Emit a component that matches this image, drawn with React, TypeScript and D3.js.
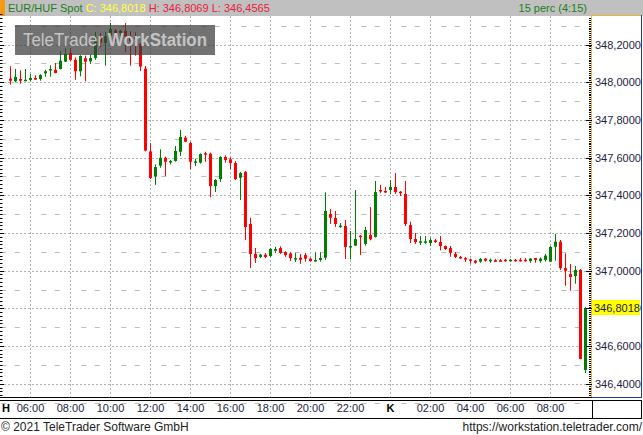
import * as d3 from "d3";

// 15-minute EUR/HUF candles, Monday 05:00 -> Tuesday 09:45
const opens = [
  348.019, 348.005, 348.017, 348.006, 348.012, 348.022, 348.017, 348.047, 348.065, 348.066,
  348.07, 348.109, 348.156, 348.119, 348.058, 348.127, 348.111, 348.128, 348.238, 348.208,
  348.247, 348.275, 348.261, 348.273, 348.243, 348.238, 348.203, 348.072, 347.633, 347.499,
  347.557, 347.599, 347.577, 347.582, 347.631, 347.706, 347.677, 347.575, 347.573, 347.623,
  347.621, 347.449, 347.486, 347.603, 347.591, 347.571, 347.493, 347.524, 347.248, 347.089,
  347.073, 347.085, 347.078, 347.106, 347.12, 347.099, 347.091, 347.062, 347.069, 347.083,
  347.064, 347.051, 347.057, 347.069, 347.301, 347.28, 347.232, 347.237, 347.126, 347.133,
  347.186, 347.142, 347.189, 347.179, 347.428, 347.423, 347.428, 347.444, 347.419, 347.407,
  347.242, 347.168, 347.149, 347.149, 347.147, 347.161, 347.152, 347.131, 347.12, 347.089,
  347.073, 347.067, 347.06, 347.053, 347.048, 347.064, 347.055, 347.055, 347.055, 347.058,
  347.051, 347.058, 347.058, 347.058, 347.051, 347.067, 347.051, 347.057, 347.048, 347.127,
  347.154, 347.014, 346.982, 346.972, 347.004, 346.473,
];
const highs = [
  348.084, 348.07, 348.063, 348.07, 348.043, 348.037, 348.043, 348.066, 348.09, 348.102,
  348.164, 348.181, 348.181, 348.132, 348.143, 348.141, 348.146, 348.266, 348.261, 348.266,
  348.314, 348.282, 348.278, 348.314, 348.27, 348.265, 348.208, 348.086, 347.677, 347.564,
  347.644, 347.605, 347.587, 347.662, 347.746, 347.715, 347.684, 347.594, 347.623, 347.631,
  347.626, 347.486, 347.608, 347.612, 347.602, 347.582, 347.524, 347.529, 347.28, 347.12,
  347.09, 347.094, 347.12, 347.126, 347.129, 347.104, 347.099, 347.094, 347.089, 347.094,
  347.069, 347.098, 347.098, 347.416, 347.327, 347.317, 347.253, 347.269, 347.211, 347.428,
  347.189, 347.232, 347.338, 347.476, 347.455, 347.444, 347.481, 347.518, 347.423, 347.476,
  347.26, 347.2, 347.184, 347.184, 347.173, 347.168, 347.184, 347.134, 347.131, 347.099,
  347.078, 347.073, 347.064, 347.057, 347.067, 347.067, 347.064, 347.062, 347.062, 347.062,
  347.062, 347.062, 347.067, 347.067, 347.067, 347.068, 347.071, 347.089, 347.131, 347.195,
  347.163, 347.092, 347.035, 347.025, 347.009, 346.8069,
];
const lows = [
  347.987, 347.999, 347.992, 348.005, 348.005, 348.012, 348.008, 348.029, 348.029, 348.047,
  348.068, 348.107, 348.114, 348.013, 348.031, 348.005, 348.097, 348.119, 348.185, 348.088,
  348.234, 348.217, 348.243, 348.159, 348.088, 348.141, 348.059, 347.633, 347.486, 347.455,
  347.546, 347.502, 347.564, 347.578, 347.608, 347.682, 347.539, 347.555, 347.568, 347.578,
  347.389, 347.417, 347.471, 347.573, 347.539, 347.481, 347.375, 347.163, 347.014, 347.041,
  347.067, 347.067, 347.073, 347.094, 347.089, 347.073, 347.051, 347.046, 347.036, 347.048,
  347.048, 347.048, 347.048, 347.057, 347.248, 347.232, 347.227, 347.062, 347.06, 347.131,
  347.083, 347.133, 347.161, 347.176, 347.411, 347.412, 347.405, 347.407, 347.396, 347.237,
  347.147, 347.142, 347.136, 347.142, 347.131, 347.147, 347.108, 347.11, 347.074, 347.067,
  347.062, 347.046, 347.037, 347.037, 347.042, 347.048, 347.042, 347.05, 347.05, 347.048,
  347.048, 347.048, 347.048, 347.048, 347.042, 347.042, 347.042, 347.048, 347.047, 347.053,
  347.004, 346.92, 346.894, 346.931, 346.53, 346.4565,
];
const closes = [
  348.008, 348.028, 348.008, 348.013, 348.022, 348.015, 348.038, 348.058, 348.07, 348.049,
  348.114, 348.15, 348.118, 348.058, 348.139, 348.109, 348.128, 348.238, 348.208, 348.243,
  348.282, 348.261, 348.273, 348.243, 348.217, 348.229, 348.083, 347.637, 347.492, 347.55,
  347.599, 347.578, 347.582, 347.635, 347.709, 347.684, 347.578, 347.58, 347.619, 347.617,
  347.449, 347.481, 347.603, 347.587, 347.571, 347.486, 347.518, 347.232, 347.089, 347.067,
  347.085, 347.073, 347.115, 347.115, 347.094, 347.083, 347.067, 347.067, 347.058, 347.064,
  347.051, 347.057, 347.067, 347.317, 347.281, 347.248, 347.239, 347.126, 347.131, 347.168,
  347.179, 347.216, 347.167, 347.417, 347.421, 347.417, 347.444, 347.417, 347.412, 347.248,
  347.168, 347.152, 347.156, 347.156, 347.163, 347.152, 347.131, 347.115, 347.095, 347.073,
  347.066, 347.062, 347.053, 347.042, 347.062, 347.053, 347.058, 347.05, 347.05, 347.051,
  347.058, 347.051, 347.051, 347.051, 347.064, 347.057, 347.064, 347.08, 347.126, 347.154,
  347.013, 347.0, 346.967, 347.004, 346.532, 346.8018,
];

const firstBar = new Date(2021, 0, 4, 5, 0); // Monday
const barMinutes = 15;
const priceTicks = [346.4, 346.6, 346.8, 347.0, 347.2, 347.4, 347.6, 347.8, 348.0, 348.2];
const dayLetters = ["H", "K"];

const W = 643;
const H = 435;
const plotRight = 591;
const plotTop = 16;
const plotBottom = 398;
const green = "#008000";
const red = "#ff0000";
const gridColor = "#b0b0b0";
const font = "'Liberation Sans', Arial, sans-serif";

const fmt = (v: number) => d3.format(".4f")(v).replace(".", ",");

export default function App() {
  const x = d3
    .scaleTime()
    .domain([new Date(2021, 0, 4, 4, 30), new Date(2021, 0, 5, 10, 0)])
    .range([0.5, 590.5]);
  const y = d3.scaleLinear().domain([346.4, 348.2]).range([383.8, 44.5]);
  const py = (v: number) => Math.round(y(v)) + 0.5;

  const bars = opens.map((o, i) => ({
    t: d3.timeMinute.offset(firstBar, i * barMinutes),
    o,
    h: highs[i],
    l: lows[i],
    c: closes[i],
  }));
  const last = bars[bars.length - 1];

  const hourTicks = x.ticks(d3.timeHour.every(2)!).filter((t) => x(t) < plotRight - 10);
  const vGrid = hourTicks.map((t) => x(t));

  // short dashes on the half levels, two per grid column
  const step = (x(d3.timeHour.offset(firstBar, 2)) - x(firstBar)) / 3;
  const dashX: number[] = [];
  for (let k = -2; k < 45; k++) {
    if (k % 3 === 0) continue;
    const xv = vGrid[0] + k * step;
    if (xv > 3 && xv < plotRight - 4) dashX.push(xv);
  }
  const halfLevels = priceTicks.map((p) => p + 0.1).concat([346.3]);

  const minor02 = d3.range(0, 102).map((i) => 346.34 + i * 0.02);
  const minor01 = d3.range(0, 202).map((i) => 346.33 + i * 0.01);

  return (
    <svg
      width={W}
      height={H}
      style={{ position: "absolute", left: 0, top: 0, background: "#fff" }}
      fontFamily={font}
    >
      <rect x={0} y={0} width={W} height={H} fill="#fff" />
      {/* header */}
      <rect x={0} y={0} width={W} height={plotTop} fill="#c0c0c0" />
      <rect x={0} y={0} width={5} height={plotTop} fill="#f39c12" />
      <text x={8} y={11.5} fontSize={11}>
        <tspan fill="#1d7f1d">EUR/HUF Spot </tspan>
        <tspan fill="#ffff40">C: {fmt(last.c)} </tspan>
        <tspan fill="#e8203a">
          H: {fmt(last.h)} L: {fmt(last.l)}
        </tspan>
      </text>
      <text x={587} y={11.5} fontSize={11} fill="#1d7f1d" textAnchor="end">
        15 perc (4:15)
      </text>

      {/* grid */}
      {vGrid.map((gx, i) => (
        <line key={"vg" + i} x1={gx} x2={gx} y1={plotTop} y2={plotBottom - 1} stroke={gridColor} strokeDasharray="2,2" />
      ))}
      {priceTicks.map((p) => (
        <line key={"hg" + p} x1={0} x2={plotRight} y1={py(p)} y2={py(p)} stroke={gridColor} strokeDasharray="2,2" />
      ))}
      {halfLevels.map((p) =>
        dashX.map((dx, j) => (
          <line key={"hd" + p + "_" + j} x1={dx - 2.5} x2={dx + 2.5} y1={py(p)} y2={py(p)} stroke="#bbbbbb" />
        ))
      )}

      {/* candles */}
      {bars.map((b, i) => {
        const cx = x(b.t);
        const col = b.c >= b.o ? green : red;
        const top = y(Math.max(b.o, b.c));
        const bot = y(Math.min(b.o, b.c));
        return (
          <g key={"c" + i}>
            <line x1={cx} x2={cx} y1={y(b.h)} y2={y(b.l)} stroke={col} />
            <rect x={cx - 1.5} y={top} width={3} height={Math.max(1.5, bot - top)} fill={col} />
          </g>
        );
      })}

      {/* watermark */}
      <rect x={15} y={25} width={200} height={30} fill="#3c3c3c" opacity={0.72} />
      <text x={23} y={45.5} fontSize={18} fill="#c4c4c4" textLength={184} lengthAdjust="spacingAndGlyphs">
        TeleTrader <tspan fontWeight="bold">WorkStation</tspan>
      </text>

      {/* left edge ticks */}
      {minor02.map((p, i) => (
        <line key={"lt" + i} x1={0} x2={i % 10 === 3 ? 4 : 2.5} y1={py(p)} y2={py(p)} stroke="#000" />
      ))}

      {/* right price axis */}
      <rect x={591.5} y={15.5} width={49.5} height={382} fill="#fff" />
      <line x1={591.5} x2={591.5} y1={15} y2={398} stroke="#e8b830" />
      <line x1={591} x2={641} y1={15.5} y2={15.5} stroke="#e8b830" />
      <line x1={641.5} x2={641.5} y1={15} y2={398} stroke="#1f3d8f" />
      <line x1={591} x2={642} y1={397.5} y2={397.5} stroke="#1f3d8f" />
      {minor01.map((p, i) => (
        <line key={"rt" + i} x1={589} x2={591} y1={py(p)} y2={py(p)} stroke="#000" />
      ))}
      {priceTicks.map((p) => (
        <g key={"yl" + p}>
          <line x1={586} x2={592} y1={py(p)} y2={py(p)} stroke="#000" />
          <text x={595} y={y(p) + 4} fontSize={11} fill="#1c1c44">
            {fmt(p)}
          </text>
        </g>
      ))}
      <rect x={592} y={y(last.c) - 8} width={48} height={15} fill="#ffff00" />
      <text x={594} y={y(last.c) + 4} fontSize={11} fill="#1c1c44">
        {fmt(last.c)}
      </text>

      {/* time axis */}
      <line x1={0} x2={592} y1={397.5} y2={397.5} stroke="#000" />
      <line x1={0} x2={642} y1={400.5} y2={400.5} stroke="#000" />
      <line x1={0} x2={642} y1={418.5} y2={418.5} stroke="#000" />
      <line x1={592.5} x2={592.5} y1={400} y2={419} stroke="#000" />
      <line x1={641.5} x2={641.5} y1={400} y2={419} stroke="#000" />
      <text x={2} y={412} fontSize={11} fontWeight="bold" fill="#000">
        {dayLetters[0]}
      </text>
      {hourTicks.map((t, i) =>
        t.getHours() === 0 ? (
          <text key={"xt" + i} x={x(t)} y={412} fontSize={11} fontWeight="bold" textAnchor="middle" fill="#000">
            {dayLetters[1]}
          </text>
        ) : (
          <text key={"xt" + i} x={x(t)} y={412} fontSize={11} textAnchor="middle" fill="#1c1c44">
            {d3.timeFormat("%H:%M")(t)}
          </text>
        )
      )}

      {/* footer */}
      <text x={1} y={430.5} fontSize={12} fill="#222">
        © 2021 TeleTrader Software GmbH
      </text>
      <text x={642} y={430.5} fontSize={12} fill="#222" textAnchor="end">
        https://workstation.teletrader.com/
      </text>
    </svg>
  );
}
